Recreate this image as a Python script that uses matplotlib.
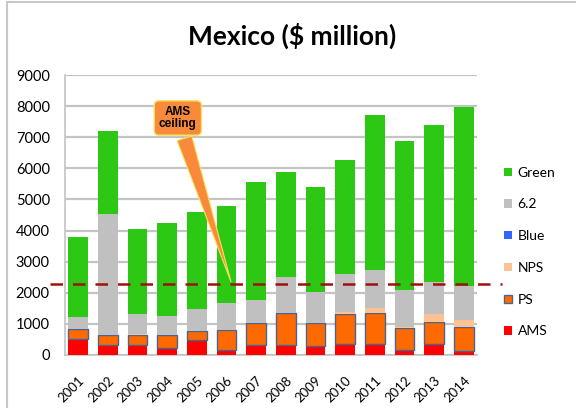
import numpy as np
import matplotlib.pyplot as plt
import matplotlib.transforms as mtransforms
from matplotlib.patches import Rectangle

plt.rcParams['font.family'] = ['Lato', 'DejaVu Sans']

years = [str(y) for y in range(2001, 2015)]
# stacked segments, $ million
ams = [500, 320, 320, 210, 480, 160, 320, 320, 300, 350, 350, 160, 350, 140]
ps = [325, 320, 320, 430, 290, 640, 700, 1020, 720, 960, 1010, 720, 700, 770]
nps = [0, 0, 40, 0, 0, 0, 0, 0, 0, 60, 160, 30, 260, 220]
blue = [0] * 14
six2 = [385, 3890, 640, 610, 710, 860, 750, 1180, 1020, 1220, 1210, 1180, 1030, 1100]
green = [2570, 2680, 2720, 2980, 3110, 3140, 3780, 3370, 3350, 3680, 4980, 4790, 5070, 5750]
ams_ceiling = 2270

series = [
    ('AMS', ams, '#ff0000', 'none'),
    ('PS', ps, '#ff6a00', '#4a6491'),
    ('NPS', nps, '#fbc394', 'none'),
    ('Blue', blue, '#3366ff', 'none'),
    ('6.2', six2, '#c0c0c0', 'none'),
    ('Green', green, '#2dc814', 'none'),
]

fig = plt.figure(figsize=(5.76, 4.08), dpi=100)
ax = fig.add_axes([0.113, 0.130, 0.715, 0.686])

x = np.arange(len(years))
bottom = np.zeros(len(years))
handles = {}
for name, vals, col, ec in series:
    vals = np.array(vals, dtype=float)
    b = ax.bar(x, vals, 0.67, bottom=bottom, color=col,
               edgecolor=ec, linewidth=1.0 if ec != 'none' else 0, zorder=3)
    handles[name] = b
    bottom += vals

ax.set_ylim(0, 9000)
ax.set_xlim(-0.44, 13.44)
ax.set_yticks(range(0, 9001, 1000))
ax.set_xticks(x)
ax.set_xticklabels(years, rotation=45, ha='right', rotation_mode='anchor', fontsize=9.5)
shift = mtransforms.ScaledTranslation(6 / 100, 0, fig.dpi_scale_trans)
for lbl in ax.get_xticklabels():
    lbl.set_transform(lbl.get_transform() + shift)
ax.tick_params(axis='y', labelsize=10.5, length=0, pad=11)
ax.tick_params(axis='x', length=0, pad=14)
ax.grid(axis='y', color='#c4c4c4', linewidth=1.6, zorder=0)
for s in ['top', 'right']:
    ax.spines[s].set_visible(False)
for s in ['left', 'bottom']:
    ax.spines[s].set_color('#c4c4c4')
    ax.spines[s].set_linewidth(1.2)

# ceiling line runs a bit past the plot area on both sides
ax.plot([-0.036, 1.06], [ams_ceiling, ams_ceiling], ls=(0, (5, 4)), color='#a01010',
        lw=1.8, clip_on=False, zorder=5, transform=ax.get_yaxis_transform())

ax.annotate('AMS\nceiling', xy=(5.18, ams_ceiling), xytext=(3.36, 7620),
            ha='center', va='center', fontsize=8.5, fontweight='bold',
            family=['Liberation Sans', 'DejaVu Sans'], zorder=6, linespacing=1.1,
            bbox=dict(boxstyle='round,pad=0.4', fc='#f98a3c', ec='#f5e25a', lw=1),
            arrowprops=dict(arrowstyle='wedge,tail_width=1.3,shrink_factor=0.5',
                            fc='#f98a3c', ec='#f5e25a', lw=0.8))

order = ['Green', '6.2', 'Blue', 'NPS', 'PS', 'AMS']
fig.legend([handles[n] for n in order], order, loc='upper left',
           bbox_to_anchor=(0.866, 0.605), frameon=False, fontsize=10,
           handlelength=0.55, handleheight=0.55, handletextpad=0.4,
           labelspacing=1.42, borderaxespad=0)

fig.suptitle('Mexico ($ million)', x=0.508, y=0.945, fontsize=19, fontweight='bold')

fig.patches.append(Rectangle((7 / 576, -0.05), 1.2, 1 - 2 / 408 + 0.05,
                             transform=fig.transFigure, fill=False,
                             ec='#c8c8c8', lw=1.5))

fig.savefig('out.png', dpi=100)
